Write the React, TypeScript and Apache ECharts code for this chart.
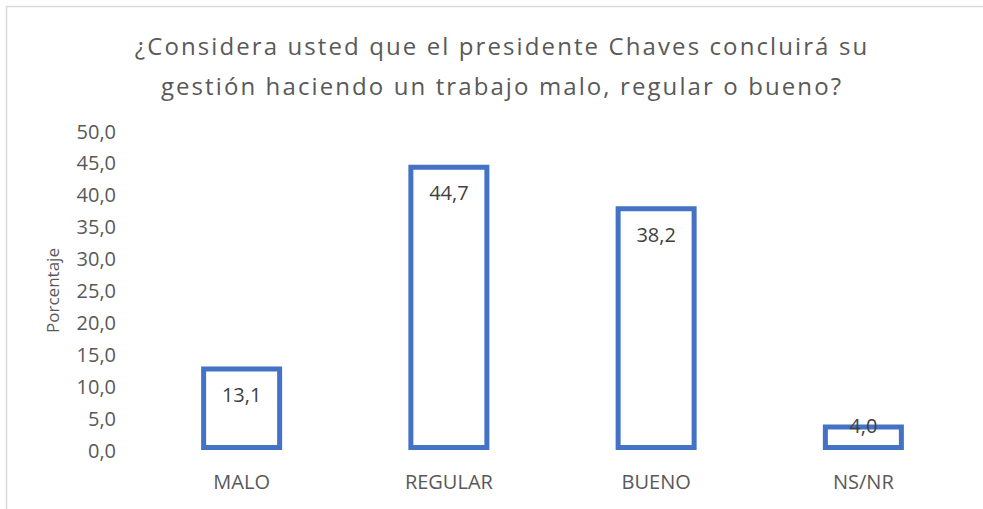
import React, { useEffect, useRef } from "react";
import * as echarts from "echarts";

const titleLines = [
  "¿Considera usted que el presidente Chaves concluirá su",
  "gestión haciendo un trabajo malo, regular o bueno?",
];
const categories = ["MALO", "REGULAR", "BUENO", "NS/NR"];
const values = [13.1, 44.7, 38.2, 4.0];
const labelOffsets = [28, 28, 28, 1];
const yAxisName = "Porcentaje";

const fmt = (v: number) => v.toFixed(1).replace(".", ",");

export default function App() {
  const ref = useRef<HTMLDivElement>(null);
  useEffect(() => {
    document.body.style.margin = "0";
    const chart = echarts.init(ref.current!, undefined, { renderer: "svg" });
    chart.setOption({
      animation: false,
      backgroundColor: "#ffffff",
      textStyle: { fontFamily: "Open Sans" },
      graphic: [
        {
          type: "rect",
          shape: { x: 6.5, y: 6.5, width: 1000, height: 520 },
          style: { fill: "none", stroke: "#d9d9d9", lineWidth: 1.5 },
          silent: true,
        },
        ...titleLines.map((t, i) => ({
          type: "text",
          x: 502,
          y: 45 + i * 40,
          silent: true,
          style: {
            text: t,
            textAlign: "center",
            textVerticalAlign: "middle",
            fontFamily: "Open Sans",
            fontSize: 24,
            fill: "#595959",
          },
        })),
      ],
      grid: { left: 138, right: 16, top: 131, bottom: 59 },
      xAxis: {
        type: "category",
        data: categories,
        axisLine: { show: false },
        axisTick: { show: false },
        axisLabel: { color: "#595959", fontSize: 20, margin: 21, fontFamily: "Open Sans" },
      },
      yAxis: {
        type: "value",
        min: 0,
        max: 50,
        interval: 5,
        name: yAxisName,
        nameLocation: "middle",
        nameGap: 77,
        nameTextStyle: { color: "#595959", fontSize: 17, fontFamily: "Open Sans" },
        axisLine: { show: false },
        axisTick: { show: false },
        splitLine: { show: false },
        axisLabel: {
          color: "#595959",
          fontSize: 20,
          margin: 22,
          fontFamily: "Open Sans",
          formatter: (v: number) => fmt(v),
        },
      },
      series: [
        {
          type: "bar",
          barWidth: 81,
          data: values.map((v, i) => ({
            value: v,
            label: { position: ["50%", labelOffsets[i]] },
          })),
          itemStyle: { color: "#ffffff", borderColor: "#4472C4", borderWidth: 5 },
          label: {
            show: true,
            align: "center",
            verticalAlign: "middle",
            color: "#404040",
            fontSize: 20,
            fontFamily: "Open Sans",
            formatter: (p: any) => fmt(p.value),
          },
        },
      ],
    });
    const texts = ref.current!.querySelectorAll("text");
    texts.forEach((el) => {
      if (titleLines.includes(el.textContent || "")) {
        (el as SVGTextElement).style.letterSpacing = "2.1px";
      }
    });
    return () => chart.dispose();
  }, []);
  return <div ref={ref} style={{ width: 983, height: 509 }} />;
}
